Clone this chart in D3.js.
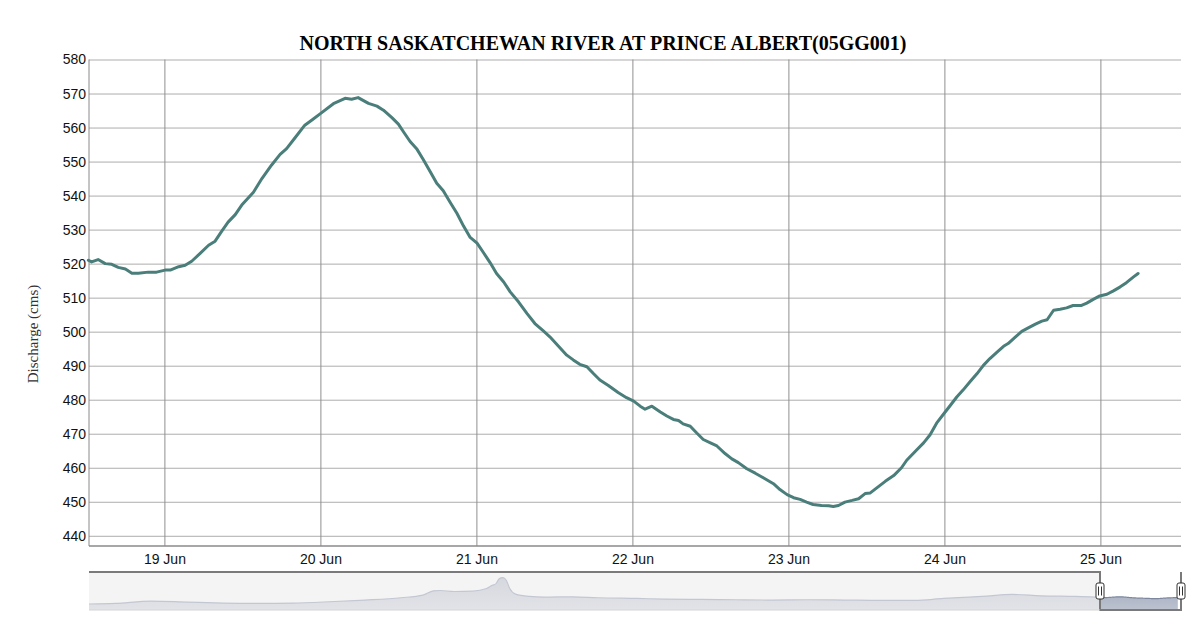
<!DOCTYPE html>
<html>
<head>
<meta charset="utf-8">
<script src="https://cdn.jsdelivr.net/npm/d3@7"></script>
<style>
  html, body { margin: 0; padding: 0; background: #fff; }
  svg { display: block; font-family: "Liberation Serif", "Times New Roman", serif; }
</style>
</head>
<body>
<svg id="chart" width="1202" height="634"></svg>
<script>
// Hourly-ish readings, hours since 18 Jun 00:00
const hours = [12.3, 12.8, 13.8, 14.9, 15.9, 16.9, 18.0, 19.0, 20.0, 21.5, 22.8, 24.1, 24.9, 26.2, 27.2, 28.2,
  29.5, 30.8, 31.8, 32.8, 33.8, 34.9, 35.9, 37.7, 39.0, 40.5, 41.8, 42.8, 44.1, 45.6, 46.7, 48.0,
  50.0, 51.8, 52.8, 53.8, 55.4, 56.7, 57.7, 59.0, 60.0, 60.8, 61.8, 62.8, 63.8, 64.9, 65.9, 66.9,
  68.0, 69.0, 70.0, 71.0, 72.1, 73.1, 74.1, 75.1, 76.2, 77.2, 78.5, 79.8, 81.0, 82.3, 83.3, 84.6,
  85.9, 86.9, 87.9, 89.0, 90.0, 91.0, 92.3, 93.8, 95.1, 96.2, 97.2, 97.95, 99.0, 100.3, 101.3, 102.3,
  103.1, 103.8, 104.9, 105.9, 106.9, 108.0, 109.0, 110.3, 111.3, 112.3, 113.6, 114.9, 116.2, 117.7, 118.7, 119.8,
  120.8, 121.8, 122.8, 123.8, 125.1, 126.2, 126.9, 127.7, 128.7, 129.8, 130.8, 131.8, 132.6, 133.6, 134.9, 136.2,
  137.4, 138.2, 139.5, 140.8, 141.8, 142.8, 144.0, 144.9, 145.9, 146.9, 148.0, 149.0, 150.0, 151.0, 152.1, 153.1,
  153.8, 154.9, 155.9, 156.9, 158.0, 159.0, 159.8, 160.8, 161.8, 162.8, 163.8, 165.1, 165.9, 166.9, 167.9, 169.0,
  170.0, 171.0, 172.0, 173.1, 173.8];
const discharge = [521.0, 520.5, 521.2, 520.0, 519.8, 518.9, 518.4, 517.2, 517.2, 517.5, 517.5, 518.1, 518.1, 519.1, 519.5, 520.7,
  523.0, 525.4, 526.6, 529.5, 532.2, 534.4, 537.2, 541.0, 545.0, 549.0, 552.1, 553.8, 557.0, 560.7, 562.2, 564.1,
  567.0, 568.6, 568.3, 568.8, 567.1, 566.3, 565.1, 562.9, 561.0, 558.7, 555.9, 553.8, 550.7, 547.0, 543.6, 541.4,
  537.9, 534.8, 531.1, 527.8, 526.0, 523.2, 520.3, 517.1, 514.6, 511.7, 508.7, 505.3, 502.4, 500.2, 498.5, 495.8,
  493.1, 491.7, 490.4, 489.7, 487.7, 485.8, 484.2, 482.1, 480.6, 479.6, 478.1, 477.2, 478.1, 476.4, 475.2, 474.2,
  473.9, 472.9, 472.2, 470.2, 468.3, 467.3, 466.4, 464.1, 462.6, 461.5, 459.7, 458.4, 457.0, 455.3, 453.6, 452.1,
  451.2, 450.7, 449.9, 449.2, 448.9, 448.8, 448.6, 448.9, 449.9, 450.4, 450.9, 452.4, 452.6, 454.1, 456.0, 457.7,
  460.0, 462.2, 464.8, 467.3, 469.7, 473.1, 476.1, 478.3, 480.8, 482.9, 485.4, 487.6, 490.1, 492.1, 494.0, 495.7,
  496.5, 498.4, 500.1, 501.1, 502.2, 503.1, 503.5, 506.3, 506.6, 507.0, 507.7, 507.7, 508.4, 509.5, 510.5, 511.0,
  512.0, 513.1, 514.4, 516.1, 517.1];

// Navigator history before the shown week (days relative to 18 Jun 00:00)
const navDays = [-86.9, -84.6, -81.5, -78.4, -75.3, -72.2, -69.2, -66.1, -63.0, -59.9, -58.0, -57.1, -56.5, -55.3,
  -53.7, -52.5, -52.0, -51.7, -51.4, -51.1, -50.8, -50.5, -50.0, -48.8, -47.5, -45.1, -42.9, -39.5, -37.1,
  -34.0, -30.9, -27.8, -24.7, -21.6, -18.5, -15.5, -13.0, -10.8, -9.3, -7.1, -4.6, -1.6, 0.32];
const navFlow = [93, 135, 288, 223, 158, 135, 158, 243, 353, 505, 678, 960, 983, 918,
  940, 1113, 1330, 1418, 1765, 1830, 1658, 1113, 743, 593, 548, 570, 505, 460, 418,
  395, 375, 353, 375, 353, 330, 330, 460, 548, 613, 723, 635, 593, 548];

const yTicks = [440, 450, 460, 470, 480, 490, 500, 510, 520, 530, 540, 550, 560, 570, 580];

const title = "NORTH SASKATCHEWAN RIVER AT PRINCE ALBERT(05GG001)";
const yTitle = "Discharge (cms)";

const base = new Date(2023, 5, 18);
const atHour = h => new Date(base.getTime() + h * 3600000);

const margin = { left: 89, right: 1181, top: 59.5, bottom: 546 };
const nav = { top: 572, bottom: 610 };

const svg = d3.select("#chart");

const x = d3.scaleTime()
  .domain([atHour(12.4), atHour(180.4)])
  .range([margin.left, margin.right]);

const y = d3.scaleLinear()
  .domain([437, 580])
  .range([margin.bottom, margin.top]);

const series = hours.map((h, i) => ({ t: atHour(h), v: discharge[i] }));

// title
svg.append("text")
  .attr("x", 603)
  .attr("y", 50)
  .attr("text-anchor", "middle")
  .attr("font-size", 20)
  .attr("font-weight", "bold")
  .attr("fill", "#000")
  .text(title);

// horizontal grid + y labels
const yAxis = svg.append("g")
  .attr("transform", `translate(${margin.left},0)`)
  .attr("font-family", "Liberation Serif, serif")
  .call(d3.axisLeft(y).tickValues(yTicks).tickSize(-(margin.right - margin.left)).tickPadding(3));
yAxis.select(".domain").remove();
yAxis.selectAll(".tick line").attr("stroke", "#adadad").attr("stroke-width", 1);
yAxis.selectAll(".tick text")
  .style("font-size", "14px")
  .attr("fill", "#111");

// vertical grid + x labels
const xAxis = svg.append("g")
  .attr("transform", `translate(0,${margin.bottom})`)
  .attr("font-family", "Liberation Serif, serif")
  .call(d3.axisBottom(x)
    .ticks(d3.timeDay.every(1))
    .tickFormat(d3.timeFormat("%-d %b"))
    .tickSize(-(margin.bottom - margin.top))
    .tickPadding(8));
xAxis.select(".domain").remove();
xAxis.selectAll(".tick line").attr("stroke", "#8f8f8f").attr("stroke-width", 1);
xAxis.selectAll(".tick text")
  .style("font-size", "14px")
  .attr("fill", "#111");

// axis lines
svg.append("line")
  .attr("x1", margin.left).attr("x2", margin.left)
  .attr("y1", margin.top).attr("y2", margin.bottom)
  .attr("stroke", "#8a8a8a").attr("stroke-width", 1);
svg.append("line")
  .attr("x1", margin.left).attr("x2", margin.right)
  .attr("y1", margin.bottom).attr("y2", margin.bottom)
  .attr("stroke", "#8a8a8a").attr("stroke-width", 1.5);

// y axis title
svg.append("text")
  .attr("transform", "translate(37.5,334) rotate(-90)")
  .attr("text-anchor", "middle")
  .attr("font-size", 15)
  .attr("fill", "#333")
  .text(yTitle);

// main line
const line = d3.line()
  .x(d => x(d.t))
  .y(d => y(d.v));

svg.append("path")
  .datum(series)
  .attr("fill", "none")
  .attr("stroke", "#4a7e7a")
  .attr("stroke-width", 3)
  .attr("stroke-linejoin", "round")
  .attr("stroke-linecap", "round")
  .attr("d", line);

// ---- navigator ----
const navStart = atHour(12.4 - 87.38 * 24);
const navX = d3.scaleTime()
  .domain([navStart, atHour(180.4)])
  .range([margin.left, margin.right]);
const navY = d3.scaleLinear()
  .domain([-300, 2200])
  .range([nav.bottom, nav.top]);

const navSeries = navDays.map((d, i) => ({ t: atHour(d * 24), v: navFlow[i] })).concat(series);

const selX0 = navX(x.domain()[0]);
const selX1 = navX(x.domain()[1]);

const defs = svg.append("defs");
defs.append("clipPath").attr("id", "clip-out")
  .append("rect").attr("x", margin.left).attr("y", nav.top)
  .attr("width", selX0 - margin.left).attr("height", nav.bottom - nav.top);
defs.append("clipPath").attr("id", "clip-in")
  .append("rect").attr("x", selX0).attr("y", nav.top)
  .attr("width", selX1 - selX0).attr("height", nav.bottom - nav.top);
const grad = defs.append("linearGradient").attr("id", "nav-sel").attr("x1", 0).attr("y1", 0).attr("x2", 0).attr("y2", 1);
grad.append("stop").attr("offset", "0%").attr("stop-color", "#9ba5ba");
grad.append("stop").attr("offset", "100%").attr("stop-color", "#bcc2cf");
const gradOut = defs.append("linearGradient").attr("id", "nav-out").attr("x1", 0).attr("y1", 0).attr("x2", 0).attr("y2", 1);
gradOut.append("stop").attr("offset", "0%").attr("stop-color", "#d6d8df");
gradOut.append("stop").attr("offset", "100%").attr("stop-color", "#e2e3e7");

svg.append("rect")
  .attr("x", margin.left).attr("y", nav.top)
  .attr("width", selX0 - margin.left).attr("height", nav.bottom - nav.top)
  .attr("fill", "#f4f4f4");

const area = d3.area()
  .x(d => navX(d.t))
  .y0(nav.bottom)
  .y1(d => navY(d.v))
  .curve(d3.curveMonotoneX);
const navLine = d3.line()
  .x(d => navX(d.t))
  .y(d => navY(d.v))
  .curve(d3.curveMonotoneX);

svg.append("path").datum(navSeries)
  .attr("clip-path", "url(#clip-out)")
  .attr("fill", "url(#nav-out)")
  .attr("d", area);
svg.append("path").datum(navSeries)
  .attr("clip-path", "url(#clip-out)")
  .attr("fill", "none").attr("stroke", "#c3c7d2").attr("stroke-width", 1.2)
  .attr("d", navLine);

svg.append("path").datum(navSeries)
  .attr("clip-path", "url(#clip-in)")
  .attr("fill", "url(#nav-sel)")
  .attr("d", area);
svg.append("path").datum(navSeries)
  .attr("clip-path", "url(#clip-in)")
  .attr("fill", "none").attr("stroke", "#7d879e").attr("stroke-width", 1.2)
  .attr("d", navLine);

// navigator outline
svg.append("path")
  .attr("d", `M${margin.left},${nav.top}H${selX0}V${nav.bottom}H${selX1}V${nav.top}`)
  .attr("fill", "none")
  .attr("stroke", "#7a7a7a")
  .attr("stroke-width", 2);
svg.append("line")
  .attr("x1", margin.left).attr("x2", selX0)
  .attr("y1", nav.bottom).attr("y2", nav.bottom)
  .attr("stroke", "#d4d4d4").attr("stroke-width", 1);

// handles
[selX0, selX1].forEach(hx => {
  const g = svg.append("g").attr("transform", `translate(${hx},591)`);
  g.append("rect")
    .attr("x", -4).attr("y", -8).attr("width", 8).attr("height", 16)
    .attr("rx", 2)
    .attr("fill", "#fff").attr("stroke", "#333").attr("stroke-width", 1);
  [-1.5, 1.5].forEach(dx => g.append("line")
    .attr("x1", dx).attr("x2", dx).attr("y1", -4.5).attr("y2", 4.5)
    .attr("stroke", "#333").attr("stroke-width", 1));
});
</script>
</body>
</html>
